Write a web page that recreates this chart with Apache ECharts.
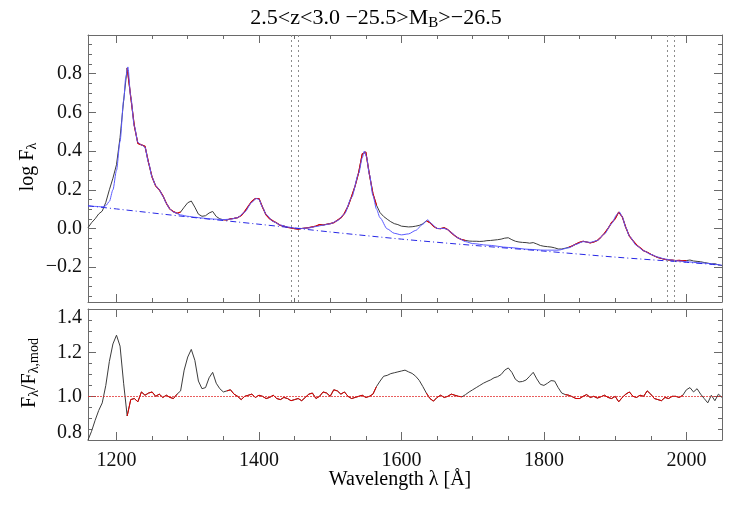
<!DOCTYPE html>
<html><head><meta charset="utf-8">
<script src="https://cdn.jsdelivr.net/npm/echarts@6/dist/echarts.min.js"></script>
<style>html,body{margin:0;padding:0;background:#fff}#c{width:736px;height:507px}</style>
</head><body><div id="c"></div>
<script>
// ---------- data ----------
const titleMain1 = '2.5<z<3.0 \u221225.5>M';
const titleSub = 'B';
const titleMain2 = '>\u221226.5';
const xName = 'Wavelength \u03bb [\u00c5]';

const xMin = 1160, xMax = 2050;
const waveStart = 1160, waveStep = 5; // sampling grid of the spectrum

// log F_lambda (composite spectrum), 1160..2050 step 5
const specFlux = [
  0.004,0.03,0.05,0.075,0.09,0.135,0.2,0.26,0.33,0.47,
  0.66,0.83,0.68,0.53,0.44,0.432,0.425,0.34,0.265,0.22,
  0.2,0.17,0.13,0.1,0.087,0.078,0.085,0.11,0.133,0.142,
  0.11,0.074,0.063,0.066,0.08,0.088,0.062,0.05,0.045,0.044,
  0.05,0.052,0.056,0.067,0.088,0.115,0.14,0.155,0.155,0.11,
  0.07,0.05,0.038,0.028,0.016,0.012,0.006,0.003,-0.001,-0.003,
  0.0,0.002,0.004,0.008,0.012,0.02,0.018,0.022,0.025,0.03,
  0.042,0.055,0.078,0.115,0.165,0.22,0.29,0.385,0.395,0.28,
  0.18,0.12,0.082,0.062,0.048,0.035,0.025,0.02,0.012,0.01,
  0.008,0.009,0.012,0.016,0.024,0.04,0.03,0.012,0.0,-0.001,
  0.004,-0.006,-0.022,-0.038,-0.05,-0.058,-0.062,-0.065,-0.066,-0.066,
  -0.067,-0.066,-0.063,-0.062,-0.06,-0.058,-0.055,-0.05,-0.048,-0.058,
  -0.066,-0.07,-0.072,-0.073,-0.076,-0.073,-0.08,-0.088,-0.092,-0.094,
  -0.096,-0.1,-0.106,-0.106,-0.102,-0.097,-0.09,-0.08,-0.072,-0.066,
  -0.07,-0.074,-0.07,-0.062,-0.045,-0.025,0.0,0.03,0.05,0.085,
  0.06,0.005,-0.04,-0.063,-0.085,-0.1,-0.115,-0.123,-0.133,-0.142,
  -0.15,-0.155,-0.16,-0.163,-0.164,-0.166,-0.165,-0.167,-0.166,-0.163,
  -0.168,-0.17,-0.172,-0.176,-0.179,-0.183,-0.182,-0.188,-0.192
];

// F_lambda / F_lambda,mod, same grid
const ratio = [
  0.80,0.84,0.89,0.935,0.97,1.05,1.16,1.24,1.28,1.23,
  1.06,0.91,0.985,0.99,0.975,1.02,1.005,1.015,1.02,1.0,
  1.01,0.995,1.005,0.995,0.99,1.01,1.025,1.12,1.18,1.215,
  1.165,1.07,1.035,1.04,1.085,1.11,1.06,1.035,1.02,1.025,
  1.03,1.01,1.0,0.985,1.0,1.005,1.01,0.995,1.005,1.0,
  0.99,0.995,1.005,0.99,0.985,0.995,0.99,0.98,0.985,0.99,
  0.98,0.995,1.01,1.015,0.99,1.0,1.02,1.015,1.0,1.03,
  1.025,1.01,1.02,1.0,0.99,0.995,1.0,1.005,0.995,1.0,
  1.01,1.045,1.07,1.092,1.096,1.104,1.108,1.112,1.116,1.12,
  1.112,1.105,1.092,1.073,1.045,1.015,0.99,0.978,0.995,1.005,
  0.995,1.0,1.01,1.005,1.0,0.998,1.008,1.02,1.03,1.04,
  1.05,1.06,1.068,1.075,1.085,1.09,1.1,1.12,1.13,1.11,
  1.078,1.066,1.068,1.075,1.092,1.11,1.08,1.055,1.05,1.06,
  1.072,1.07,1.04,1.015,1.008,1.005,0.998,0.99,0.99,1.0,
  1.008,0.995,1.0,0.992,0.998,1.005,0.995,0.99,1.0,0.975,
  0.995,1.01,1.02,1.0,0.995,1.005,1.0,1.025,1.01,0.99,
  0.985,0.98,0.995,0.99,1.0,1.0,0.995,1.005,1.03,1.04,
  1.02,1.035,1.01,0.99,0.97,1.005,0.98,1.01,0.995
];

// fitting windows (drawn in red)
const fitWindowsTop = [[1215,1290],[1350,1565],[1635,1690],[1835,2000]];
const fitWindowsRatio = [[1215,1285],[1355,1565],[1635,1685],[1830,1995]];
const ratioBaseline = 1.0;

// model (blue solid)
const modelWave = [1160,1170,1180,1185,1190,1195,1200,1205,1210,1213,
  1216,1220,1225,1230,1235,1240,1245,1250,1255,1260,
  1265,1270,1275,1280,1290,1300,1310,1320,1330,1340,
  1350,1360,1370,1380,1390,1396,1400,1405,1410,1420,
  1430,1440,1450,1460,1470,1480,1490,1500,1510,1520,
  1530,1540,1545,1548,1551,1555,1560,1565,1570,1580,
  1590,1600,1610,1620,1630,1637,1642,1650,1660,1665,
  1670,1680,1690,1700,1720,1750,1780,1800,1820,1835,
  1845,1855,1865,1875,1885,1895,1902,1906,1910,1915,
  1920,1930,1940,1950,1960,1970,1980,1990,2000,2020,2050];
const modelFlux = [0.117,0.114,0.112,0.118,0.14,0.2,0.3,0.45,0.66,0.78,
  0.835,0.68,0.53,0.445,0.432,0.42,0.34,0.265,0.222,0.2,
  0.168,0.13,0.1,0.085,0.07,0.063,0.058,0.054,0.05,0.048,
  0.046,0.048,0.056,0.085,0.135,0.155,0.15,0.11,0.072,0.036,
  0.018,0.008,0.002,0.0,0.003,0.01,0.017,0.024,0.04,0.075,
  0.16,0.285,0.365,0.40,0.37,0.28,0.17,0.1,0.055,-0.002,
  -0.025,-0.033,-0.028,-0.01,0.022,0.045,0.025,0.0,0.0,-0.006,
  -0.022,-0.05,-0.068,-0.078,-0.086,-0.098,-0.108,-0.112,-0.112,-0.1,
  -0.082,-0.068,-0.072,-0.062,-0.028,0.025,0.07,0.085,0.06,0.005,
  -0.04,-0.088,-0.115,-0.134,-0.148,-0.158,-0.164,-0.168,-0.172,-0.178,-0.19];

// power-law continuum (blue dash-dot)
const contWave = [1160,1200,1300,1400,1500,1600,1700,1800,1900,2000,2050];
const contFlux = [0.117,0.101,0.060,0.022,-0.018,-0.055,-0.087,-0.117,-0.148,-0.175,-0.19];

// continuum windows (dotted verticals)
const contWindowLines = [1445,1455,1973,1983];

// ticks / labels
const xTickLabels = [1200,1400,1600,1800,2000];
const xMinorStep = 50;
const topYLabels = [-0.2,0.0,0.2,0.4,0.6,0.8];
const botYLabels = [0.8,1.0,1.2,1.4];
const topYRange = [-0.38, 1.0];
const botYRange = [0.8, 1.4];
const yMinorStep = 0.05;

// ---------- build ----------
const FONT = '"Liberation Serif","Times New Roman",serif';
const frameColor = '#6a6a6a';
const waves = specFlux.map((_, i) => waveStart + i * waveStep);
const inWin = (w, wins) => wins.some(([a, b]) => w >= a && w <= b);

const specPairs = waves.map((w, i) => [w, specFlux[i]]);
const specRedPairs = waves.map((w, i) => [w, inWin(w, fitWindowsTop) ? specFlux[i] : null]);
const ratioPairs = waves.map((w, i) => [w, ratio[i]]);
const ratioRedPairs = waves.map((w, i) => [w, inWin(w, fitWindowsRatio) ? ratio[i] : null]);
const modelPairs = modelWave.map((w, i) => [w, modelFlux[i]]);
const contPairs = contWave.map((w, i) => [w, contFlux[i]]);

const xMinor = [];
for (let v = 1200; v < xMax; v += xMinorStep) if (!xTickLabels.includes(v)) xMinor.push(v);
function yMinorList(lo, hi, majors) {
  const out = [];
  const k0 = Math.ceil(lo / yMinorStep - 1e-9), k1 = Math.floor(hi / yMinorStep + 1e-9);
  for (let k = k0; k <= k1; k++) {
    const v = +(k * yMinorStep).toFixed(2);
    if (v <= lo + 1e-9 || v >= hi - 1e-9) continue;
    if (majors.some(m => Math.abs(m - v) < 1e-6)) continue;
    out.push(v);
  }
  return out;
}
const topYMinor = yMinorList(topYRange[0], topYRange[1], topYLabels.concat([1.0]));
const botYMinor = yMinorList(botYRange[0], botYRange[1], botYLabels);
const botYMajorTicks = botYLabels.filter(v => v > botYRange[0] && v < botYRange[1]);

const labelStyle = { color: '#111', fontFamily: FONT, fontSize: 20 };

function xAx(gi, pos, ticks, len, showLine, showLabel) {
  return {
    type: 'value', gridIndex: gi, position: pos, min: xMin, max: xMax,
    axisLine: { show: showLine, onZero: false, lineStyle: { color: frameColor, width: 1 } },
    axisTick: { show: true, inside: true, length: len, customValues: ticks, lineStyle: { color: frameColor, width: 1 } },
    axisLabel: showLabel ? Object.assign({ show: true, customValues: xTickLabels, margin: 11, formatter: v => String(v) }, labelStyle) : { show: false },
    splitLine: { show: false }, axisPointer: { show: false }
  };
}
function yAx(gi, pos, range, ticks, len, showLine, labels, formatter, rich) {
  return {
    type: 'value', gridIndex: gi, position: pos, min: range[0], max: range[1],
    axisLine: { show: showLine, onZero: false, lineStyle: { color: frameColor, width: 1 } },
    axisTick: { show: true, inside: true, length: len, customValues: ticks, lineStyle: { color: frameColor, width: 1 } },
    axisLabel: labels ? Object.assign({ show: true, customValues: labels, margin: 6, formatter: formatter, rich: rich }, labelStyle) : { show: false },
    splitLine: { show: false }, axisPointer: { show: false }
  };
}
const fmt = v => v.toFixed(1).replace('-', '\u2212');
const botFmt = v => {
  if (Math.abs(v - botYRange[1]) < 1e-6) return '{dn|' + fmt(v) + '}';
  if (Math.abs(v - botYRange[0]) < 1e-6) return '{up|' + fmt(v) + '}';
  return fmt(v);
};
const botRich = {
  dn: { fontFamily: FONT, fontSize: 20, color: '#111', padding: [17, 0, 0, 0] },
  up: { fontFamily: FONT, fontSize: 20, color: '#111', padding: [0, 0, 15, 0] }
};

const xAxes = [
  xAx(0, 'bottom', xTickLabels, 8, true, false),
  xAx(0, 'bottom', xMinor, 4, false, false),
  xAx(0, 'top', xTickLabels, 8, true, false),
  xAx(0, 'top', xMinor, 4, false, false),
  xAx(1, 'bottom', xTickLabels, 8, true, true),
  xAx(1, 'bottom', xMinor, 4, false, false),
  xAx(1, 'top', xTickLabels, 8, true, false),
  xAx(1, 'top', xMinor, 4, false, false)
];
const yAxes = [
  yAx(0, 'left', topYRange, topYLabels, 8, true, topYLabels, fmt),
  yAx(0, 'left', topYRange, topYMinor, 4, false, null),
  yAx(0, 'right', topYRange, topYLabels, 8, true, null),
  yAx(0, 'right', topYRange, topYMinor, 4, false, null),
  yAx(1, 'left', botYRange, botYMajorTicks, 8, true, botYLabels, botFmt, botRich),
  yAx(1, 'left', botYRange, botYMinor, 4, false, null),
  yAx(1, 'right', botYRange, botYMajorTicks, 8, true, null),
  yAx(1, 'right', botYRange, botYMinor, 4, false, null)
];

const blackCol = '#3c3c3c', redCol = '#e00000', blueCol = '#5a5aff', contCol = '#2828e6';

const option = {
  animation: false,
  backgroundColor: '#ffffff',
  grid: [
    { left: 88, right: 14, top: 35, height: 267, containLabel: false, outerBoundsMode: 'none' },
    { left: 88, right: 14, top: 309, height: 131, containLabel: false, outerBoundsMode: 'none' }
  ],
  xAxis: xAxes,
  yAxis: yAxes,
  series: [
    { type: 'line', xAxisIndex: 0, yAxisIndex: 0, data: specPairs, showSymbol: false, silent: true,
      lineStyle: { color: blackCol, width: 1 },
      markLine: { silent: true, symbol: ['none', 'none'], label: { show: false },
        lineStyle: { color: '#8c8c8c', type: [2, 3], width: 1 },
        data: contWindowLines.map(v => ({ xAxis: v })) } },
    { type: 'line', xAxisIndex: 0, yAxisIndex: 0, data: specRedPairs, showSymbol: false, silent: true,
      connectNulls: false, lineStyle: { color: redCol, width: 1.2 } },
    { type: 'line', xAxisIndex: 0, yAxisIndex: 0, data: modelPairs, smooth: 0.25, smoothMonotone: 'x', showSymbol: false, silent: true,
      lineStyle: { color: blueCol, width: 1 } },
    { type: 'line', xAxisIndex: 0, yAxisIndex: 0, data: contPairs, smooth: 0.3, showSymbol: false, silent: true,
      lineStyle: { color: contCol, width: 1, type: [6, 3, 1, 3] } },
    { type: 'line', xAxisIndex: 4, yAxisIndex: 4, data: ratioPairs, showSymbol: false, silent: true,
      lineStyle: { color: blackCol, width: 1 },
      markLine: { silent: true, symbol: ['none', 'none'], label: { show: false },
        lineStyle: { color: 'rgba(225,40,40,0.75)', type: [2, 1], width: 1 },
        data: [{ yAxis: ratioBaseline }] } },
    { type: 'line', xAxisIndex: 4, yAxisIndex: 4, data: ratioRedPairs, showSymbol: false, silent: true,
      connectNulls: false, lineStyle: { color: redCol, width: 1 } }
  ],
  graphic: [
    { type: 'text', x: 376, y: 18, silent: true,
      style: { text: '{a|' + titleMain1 + '}{s|' + titleSub + '}{a|' + titleMain2 + '}', align: 'center', verticalAlign: 'middle',
        rich: { a: { fontFamily: FONT, fontSize: 22, fill: '#000', color: '#000', lineHeight: 26 },
                s: { fontFamily: FONT, fontSize: 15, fill: '#000', color: '#000', padding: [10, 0, 0, 0] } } } },
    { type: 'text', x: 28, y: 167, rotation: Math.PI / 2, silent: true,
      style: { text: '{a|log F}{s|\u03bb}', align: 'center', verticalAlign: 'middle',
        rich: { a: { fontFamily: FONT, fontSize: 20, fill: '#000', color: '#000', lineHeight: 24 },
                s: { fontFamily: FONT, fontSize: 14, fill: '#000', color: '#000', padding: [9, 0, 0, 0] } } } },
    { type: 'text', x: 30, y: 373, rotation: Math.PI / 2, silent: true,
      style: { text: '{a|F}{s|\u03bb}{a|/F}{s|\u03bb,mod}', align: 'center', verticalAlign: 'middle',
        rich: { a: { fontFamily: FONT, fontSize: 20, fill: '#000', color: '#000', lineHeight: 24 },
                s: { fontFamily: FONT, fontSize: 14, fill: '#000', color: '#000', padding: [9, 0, 0, 0] } } } },
    { type: 'text', x: 400, y: 480, silent: true,
      style: { text: xName, align: 'center', verticalAlign: 'middle', fontFamily: FONT, fontSize: 20, fill: '#000' } }
  ]
};
const chart = echarts.init(document.getElementById('c'), null, { renderer: 'canvas' });
chart.setOption(option);
</script>
</body></html>
